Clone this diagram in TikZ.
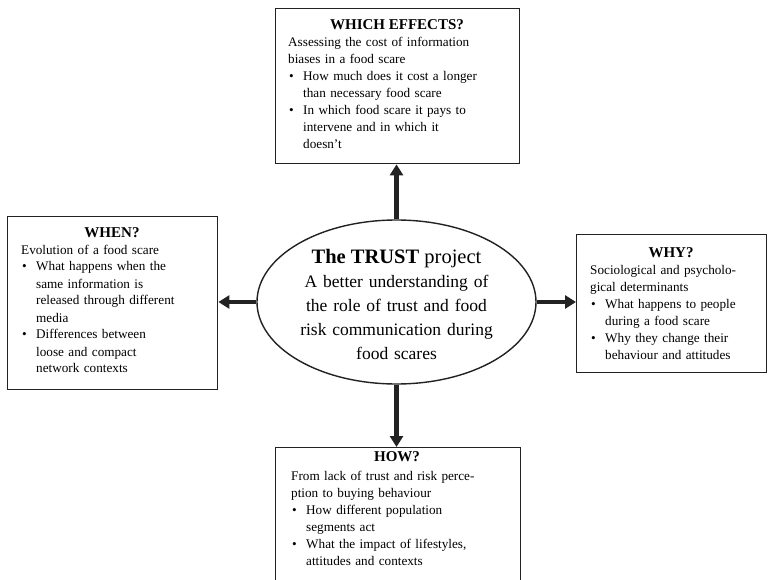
\documentclass[tikz,border=0pt]{standalone}
\usepackage{fontspec}
\setmainfont{Liberation Serif}
\usetikzlibrary{arrows.meta,shapes.geometric}
\newcommand{\tbul}{\makebox[15pt][l]{\hspace{1pt}\textbullet}}
\newcommand{\tind}{\hspace*{15pt}}
\definecolor{ink}{HTML}{222222}
\begin{document}
\begin{tikzpicture}[x=1pt,y=-1pt,
  boxst/.style={draw=ink, line width=1.4pt, rectangle, inner sep=0pt, anchor=north west},
  txt/.style={anchor=base west, inner sep=0pt, text width=#1, font=\fontsize{13.2}{17}\selectfont},
  ttl/.style={anchor=base, inner sep=0pt, font=\fontsize{15}{17}\selectfont\bfseries},
  arr/.style={draw=ink, line width=4.6pt, -{Triangle[length=11pt,width=13pt]}}
]
\clip (0,0) rectangle (768,580);
\fill[white] (0,0) rectangle (768,580);

% boxes
\node[boxst, minimum width=244pt, minimum height=155pt] (effects) at (275,8) {};
\node[boxst, minimum width=210pt, minimum height=173pt] (when) at (7,216) {};
\node[boxst, minimum width=190pt, minimum height=138pt] (why) at (576,234) {};
\node[boxst, minimum width=245pt, minimum height=160pt] (how) at (275,447) {};

% ellipse
\node[draw=ink, line width=1.4pt, ellipse, minimum width=279pt, minimum height=164pt, inner sep=0pt] (core) at (396.5,302) {};

% titles
\node[ttl] (effectsH) at (397,30) {WHICH EFFECTS?};
\node[ttl] (whenH) at (112,237) {WHEN?};
\node[ttl] (whyH) at (671,257) {WHY?};
\node[ttl] (howH) at (397,461) {HOW?};

% texts
\node[txt=230pt] (effectsT) at (288,47) {Assessing the cost of information\\
biases in a food scare\\
\tbul How much does it cost a longer\\
\tind than necessary food scare\\
\tbul In which food scare it pays to\\
\tind intervene and in which it\\
\tind doesn't};

\node[txt=195pt] (whenT) at (21,254) {Evolution of a food scare\\
\tbul What happens when the\\
\tind same information is\\
\tind released through different\\
\tind media\\
\tbul Differences between\\
\tind loose and compact\\
\tind network contexts};

\node[txt=175pt] (whyT) at (590,274) {Sociological and psycholo-\\
gical determinants\\
\tbul What happens to people\\
\tind during a food scare\\
\tbul Why they change their\\
\tind behaviour and attitudes};

\node[txt=228pt] (howT) at (291,480) {From lack of trust and risk perce-\\
ption to buying behaviour\\
\tbul How different population\\
\tind segments act\\
\tbul What the impact of lifestyles,\\
\tind attitudes and contexts};

% ellipse text
\node[anchor=base, inner sep=0pt, font=\fontsize{20.5}{24}\selectfont] (coreH) at (396.5,263) {\textbf{The TRUST} project};
\node[anchor=base, inner sep=0pt, text width=260pt, align=center, font=\fontsize{17.5}{24}\selectfont] (coreT) at (396.5,287) {A better understanding of\\ the role of trust and food\\ risk communication during\\ food scares};

% arrows
\draw[arr] (core.north) -- (core.north |- effects.south);
\draw[arr] (core.south) -- (core.south |- how.north);
\draw[arr] (core.west) -- (core.west -| when.east);
\draw[arr] (core.east) -- (core.east -| why.west);
\end{tikzpicture}
\end{document}
